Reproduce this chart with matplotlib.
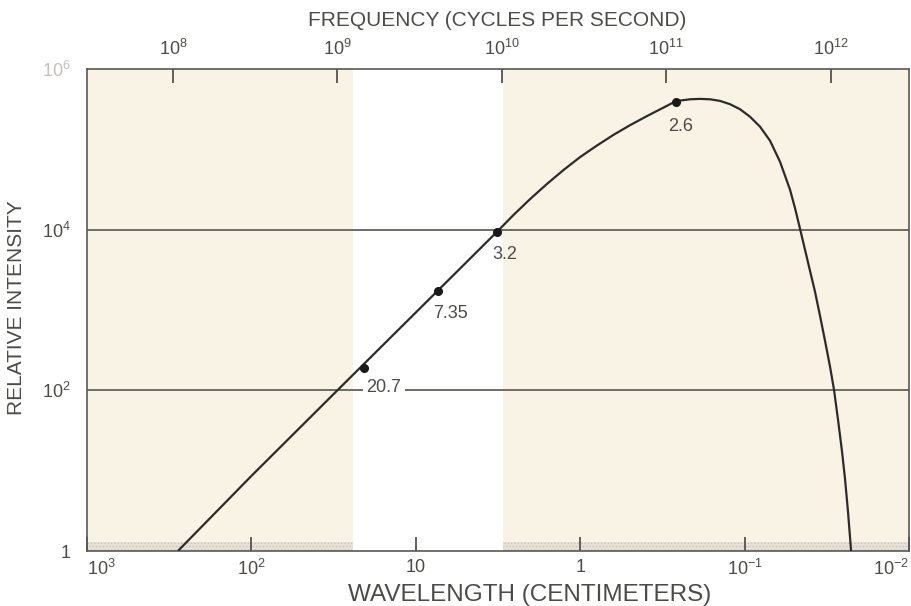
import matplotlib
matplotlib.use("Agg")
import matplotlib.pyplot as plt
from matplotlib.ticker import NullLocator

plt.rcParams['font.family'] = ['Liberation Sans', 'DejaVu Sans']
plt.rcParams['mathtext.fontset'] = 'custom'
plt.rcParams['mathtext.rm'] = 'Liberation Sans'
plt.rcParams['mathtext.it'] = 'Liberation Sans'
plt.rcParams['mathtext.default'] = 'regular'
plt.rcParams['hatch.linewidth'] = 0.6

# Background radiation spectrum (wavelength in cm, relative intensity)
curve_wavelength = [280, 100, 30, 7.35, 3.2, 2.552, 2.021, 1.599, 1.267, 1.003,
                    0.7935, 0.6291, 0.4978, 0.3939, 0.3123, 0.2765, 0.2471,
                    0.2149, 0.1867, 0.1624, 0.1411, 0.1227, 0.1067, 0.09273,
                    0.08057, 0.07005, 0.06091, 0.05293, 0.04935, 0.04603,
                    0.04292, 0.04003, 0.03731, 0.03479, 0.03243, 0.03023,
                    0.02859, 0.02703, 0.02555, 0.02451, 0.02350, 0.0225]
curve_intensity = [1.0, 8.6, 100, 1740, 9450, 1.516e4, 2.396e4, 3.684e4, 5.503e4,
                   7.99e4, 1.110e5, 1.509e5, 1.998e5, 2.585e5, 3.299e5, 3.753e5,
                   4.044e5, 4.197e5, 4.246e5, 4.197e5, 4.009e5, 3.647e5, 3.160e5,
                   2.549e5, 1.913e5, 1.281e5, 7.02e4, 3.147e4, 1.852e4, 1.029e4,
                   5637, 3088, 1692, 850.6, 415.5, 197.2, 102.0, 43.2, 17.3,
                   7.96, 3.09, 1.0]

# Measured points
meas_wavelength = [20.7, 7.35, 3.2, 0.26]
meas_intensity = [190, 1740, 9450, 3.9e5]
meas_labels = ["20.7", "7.35", "3.2", "2.6"]
label_offsets = [(14.4, -14.2), (9.5, -16.2), (5.6, -16.6), (3.3, -17.9)]

# Unshaded wavelength band (cm)
band_long, band_short = 24.1, 2.95

# Axis ticks
wave_ticks = [1e3, 1e2, 10, 1, 1e-1, 1e-2]
wave_labels = ["$10^{3}$", "$10^{2}$", "10", "1", "$10^{-1}$", "$10^{-2}$"]
freq_ticks = [1e8, 1e9, 1e10, 1e11, 1e12]
freq_labels = ["$10^{8}$", "$10^{9}$", "$10^{10}$", "$10^{11}$", "$10^{12}$"]
int_ticks = [1, 1e2, 1e4, 1e6]
int_labels = ["1", "$10^{2}$", "$10^{4}$", "$10^{6}$"]
C_LIGHT = 3e10  # cm/s

TEXT = '#4d4b48'
BEIGE = '#f8f3e5'
LINE = '#2c2b29'

fig = plt.figure(figsize=(9.12, 6.06), dpi=100)
ax = fig.add_axes([87 / 912, 55 / 606, 822 / 912, 482 / 606])
ax.set_xscale('log')
ax.set_yscale('log')
ax.set_xlim(1e3, 1e-2)
ax.set_ylim(1, 1e6)

# shaded background and stippled strip along the bottom
for x0, x1 in [(1e3, band_long), (band_short, 1e-2)]:
    ax.axvspan(x0, x1, color=BEIGE, lw=0, zorder=0)
    ax.axvspan(x0, x1, ymin=0, ymax=0.019, facecolor='#e6e2da',
               edgecolor='#c9c4ba', hatch='.....', lw=0, zorder=0.5)

for level in (1e2, 1e4):
    ax.axhline(level, color='#6f6b65', lw=1.4, zorder=1)

ax.plot(curve_wavelength, curve_intensity, color=LINE, lw=1.6, zorder=3,
        solid_capstyle='butt', solid_joinstyle='round')
ax.plot(meas_wavelength, meas_intensity, 'o', color='#1a1a1a', ms=5.5, zorder=4)

for wl, inten, lab, off in zip(meas_wavelength, meas_intensity, meas_labels, label_offsets):
    kw = {}
    if lab == "20.7":
        kw['bbox'] = dict(facecolor='white', edgecolor='none', pad=2.5)
    ax.annotate(lab, (wl, inten), xytext=off, textcoords='offset points',
                ha='center', va='center', fontsize=13, color=TEXT, zorder=5, **kw)

# bottom axis: wavelength
ax.set_xticks(wave_ticks)
ax.set_xticklabels(wave_labels)
ax.xaxis.set_minor_locator(NullLocator())
ax.tick_params(axis='x', which='major', direction='in', length=10, width=1.3,
               color='#555350', labelsize=13, labelcolor=TEXT, pad=6)
xt = ax.get_xticklabels()
xt[0].set_horizontalalignment('left')
xt[-1].set_horizontalalignment('right')

# left axis: intensity
ax.set_yticks(int_ticks)
ax.set_yticklabels(int_labels)
ax.yaxis.set_minor_locator(NullLocator())
ax.tick_params(axis='y', which='major', length=0, labelsize=13, labelcolor=TEXT, pad=12)
ax.get_yticklabels()[-1].set_color('#c4c0ba')

for sp in ax.spines.values():
    sp.set_color('#5a5854')
    sp.set_linewidth(1.2)

# top axis: frequency
top = ax.twiny()
top.set_xscale('log')
top.set_xlim(ax.get_xlim())
top.set_xticks([C_LIGHT / f for f in freq_ticks])
top.set_xticklabels(freq_labels)
top.xaxis.set_minor_locator(NullLocator())
top.tick_params(axis='x', which='major', direction='in', length=10, width=1.3,
                color='#555350', labelsize=13, labelcolor=TEXT, pad=7)
for sp in top.spines.values():
    sp.set_visible(False)

fig.text(497 / 912, 1 - 21 / 606, "FREQUENCY (CYCLES PER SECOND)", ha='center',
         va='center', fontsize=15, color=TEXT)
fig.text(530 / 912, 1 - 595 / 606, "WAVELENGTH (CENTIMETERS)", ha='center',
         va='center', fontsize=17.5, color=TEXT)
fig.text(17 / 912, 1 - 308 / 606, "RELATIVE INTENSITY", ha='center', va='center',
         rotation=90, fontsize=15, color=TEXT)

fig.savefig('out.png', dpi=100, facecolor='white')
